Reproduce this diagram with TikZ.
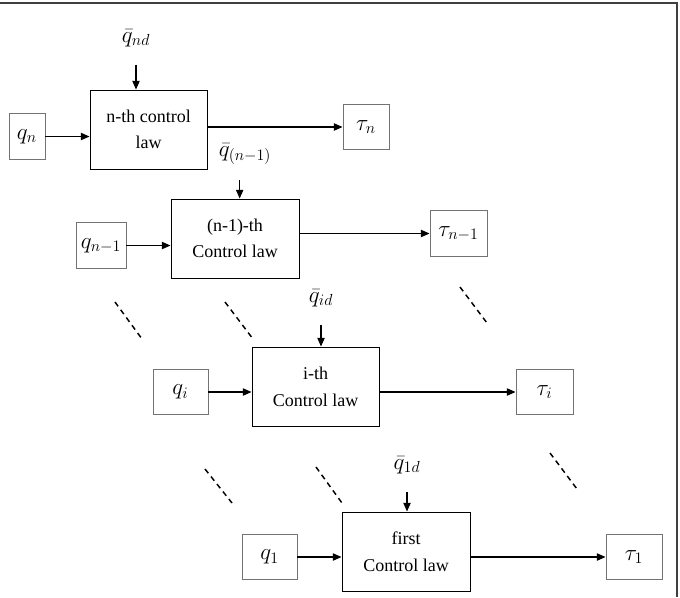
\documentclass[tikz,border=0pt]{standalone}
\usepackage{amsmath,amssymb}
\usepackage{fontspec}
\setmainfont{Liberation Serif}
\usetikzlibrary{arrows.meta}

\begin{document}
\begin{tikzpicture}[x=0.75pt, y=-0.75pt,
  every node/.style={font=\fontsize{13.5}{20}\selectfont},
  law/.style={draw, line width=0.75pt, minimum height=59.25pt, align=center},
  sig/.style={draw=black!55, line width=0.7pt, minimum height=34pt, font=\fontsize{16.5}{18}\selectfont},
  lbl/.style={font=\fontsize{16.5}{18}\selectfont},
  flow/.style={line width=0.8pt, -{Triangle[length=6.5pt, width=5.5pt]}},
  dots/.style={line width=1.1pt, dash pattern=on 4pt off 3.2pt}]
  \useasboundingbox (0,0) rectangle (680,597);
  \draw[line width=2pt, black!75] (0,3) -- (677,3) -- (677,597);

  % n-th
  \node[law, minimum width=87.75pt] (law1) at (148.5,129.5) {n-th control\\law};
  \node[sig, minimum width=27pt] (qn) at (27,136.5) {$q_n$};
  \node[sig, minimum width=34.5pt] (taun) at (366,127) {$\tau_n$};
  \node[lbl] (qnd) at (136,38) {$\bar{q}_{nd}$};
  \draw[flow] (qn) -- (qn -| law1.west);
  \draw[flow] (law1.east |- taun) -- (taun.west);
  \draw[flow] ([yshift=-10pt]qnd.south) -- (qnd.south |- law1.north);

  % (n-1)-th
  \node[law, minimum width=96pt] (law2) at (235,238.5) {(n-1)-th\\Control law};
  \node[sig, minimum width=37.5pt] (qn1) at (101,245.5) {$q_{n-1}$};
  \node[sig, minimum width=42.75pt] (taun1) at (458.5,233.5) {$\tau_{n-1}$};
  \node[lbl] (qn1d) at (245,154) {$\bar{q}_{(n-1)}$};
  \draw[flow] (qn1) -- (qn1 -| law2.west);
  \draw[flow] (law2.east |- taun1) -- (taun1.west);
  \draw[flow] ([xshift=-4pt, yshift=-8pt]qn1d.south) -- ([xshift=-4pt]qn1d.south |- law2.north);

  % i-th
  \node[law, minimum width=95.25pt] (law3) at (315.5,386.5) {i-th\\Control law};
  \node[sig, minimum width=41.25pt] (qi) at (180.5,392) {$q_i$};
  \node[sig, minimum width=42.75pt] (taui) at (544.5,392) {$\tau_i$};
  \node[lbl] (qid) at (321,298) {$\bar{q}_{id}$};
  \draw[flow] (qi) -- (qi -| law3.west);
  \draw[flow] (law3.east |- taui) -- (taui.west);
  \draw[flow] ([yshift=-10pt]qid.south) -- (qid.south |- law3.north);

  % first
  \node[law, minimum width=96pt] (law4) at (406,551.5) {first\\Control law};
  \node[sig, minimum width=41.25pt] (q1) at (269.5,557) {$q_1$};
  \node[sig, minimum width=42pt] (tau1) at (634,557) {$\tau_1$};
  \node[lbl] (q1d) at (407,465) {$\bar{q}_{1d}$};
  \draw[flow] (q1) -- (q1 -| law4.west);
  \draw[flow] (law4.east |- tau1) -- (tau1.west);
  \draw[flow] ([yshift=-10pt]q1d.south) -- (q1d.south |- law4.north);

  % dots
  \draw[dots] (115,302) -- (142,339);
  \draw[dots] (225,302) -- (253,339);
  \draw[dots] (460,287) -- (487,323);
  \draw[dots] (205,469) -- (232,503);
  \draw[dots] (316,467) -- (342,503);
  \draw[dots] (550,453) -- (577,489);
\end{tikzpicture}
\end{document}
